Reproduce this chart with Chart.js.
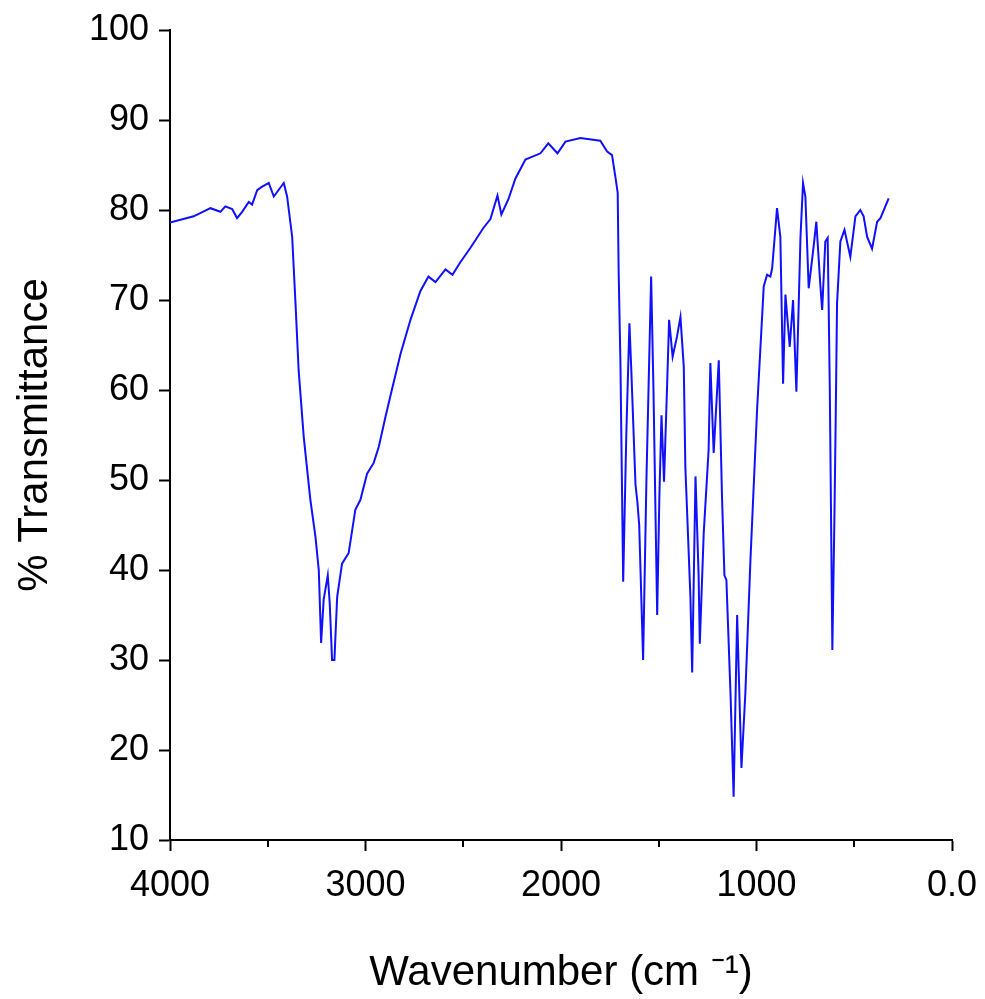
<!DOCTYPE html>
<html>
<head>
<meta charset="utf-8">
<script src="https://cdn.jsdelivr.net/npm/chart.js@4/dist/chart.umd.min.js"></script>
<style>
  html, body { margin: 0; padding: 0; background: #fff; }
  #wrap { width: 985px; height: 999px; }
</style>
</head>
<body>
<div id="wrap"><canvas id="c" width="985" height="999"></canvas></div>
<script>
// Wavenumber (cm-1)
const wavenumbers = [4000,3879,3793,3742,3717,3682,3657,3631,3597,3580,3554,3529,3512,3495,3469,3452,3418,3401,3375,3358,3342,3316,3282,3256,3239,3227,3214,3193,3183,3171,3159,3145,3120,3086,3052,3026,2992,2958,2932,2898,2873,2821,2770,2719,2678,2642,2591,2555,2515,2463,2397,2361,2325,2305,2269,2233,2182,2105,2065,2018,1977,1901,1799,1764,1739,1722,1710,1705,1696,1682,1666,1650,1640,1619,1609,1600,1580,1563,1539,1527,1508,1497,1486,1473,1458,1447,1429,1407,1389,1372,1364,1338,1329,1312,1296,1290,1270,1245,1236,1219,1193,1176,1164,1154,1133,1117,1099,1077,1057,1031,997,963,946,929,920,895,878,864,852,830,813,796,775,762,750,733,708,694,673,664,648,636,631,625,612,602,596,588,571,550,520,494,469,452,434,409,383,366,324];
// % Transmittance
const transmittance = [78.6,79.3,80.2,79.8,80.4,80.1,79.1,79.8,80.9,80.6,82.2,82.6,82.8,83.0,81.5,82.0,83.0,81.5,77.0,69.6,62.2,54.8,47.8,43.7,40.0,31.9,36.7,39.4,36.3,30.0,30.0,37.0,40.7,41.9,46.7,47.8,50.7,51.9,53.7,57.0,59.3,64.0,67.8,71.0,72.6,72.0,73.4,72.8,74.2,75.8,78.0,79.0,81.6,79.5,81.2,83.5,85.6,86.3,87.4,86.3,87.6,88.0,87.7,86.5,86.1,83.7,81.9,73.0,63.0,38.7,55.0,67.4,62.0,49.5,47.5,45.0,30.0,50.0,72.6,60.0,35.0,48.0,57.2,49.8,60.0,67.8,63.7,65.9,68.1,62.6,51.5,37.0,28.6,50.4,39.3,31.8,44.1,53.3,63.0,53.0,63.3,47.8,39.4,38.9,26.3,14.8,35.0,18.0,26.3,41.1,57.8,71.5,72.8,72.6,73.5,80.2,77.0,60.7,70.6,64.8,70.0,59.8,77.0,83.0,81.5,71.3,75.9,78.7,71.5,68.9,76.5,76.9,69.6,60.0,31.1,45.0,54.8,69.6,76.5,77.8,74.8,79.3,80.0,79.3,77.0,75.7,78.7,79.1,81.3];

const xTickLabels = {4000: '4000', 3000: '3000', 2000: '2000', 1000: '1000', 0: '0.0'};
const xTitle = 'Wavenumber (cm \u207B\u00B9)';
const yTitle = '% Transmittance';

const points = wavenumbers.map((w, i) => ({x: w, y: transmittance[i]}));

const FONT = "'Liberation Sans', Arial, sans-serif";

const minorTicks = {
  id: 'minorTicks',
  afterDraw(chart) {
    const sx = chart.scales.x;
    const ctx = chart.ctx;
    const y0 = chart.chartArea.bottom;
    ctx.save();
    ctx.strokeStyle = '#000';
    ctx.lineWidth = 2;
    sx.ticks.forEach(t => {
      if (t.value % 1000 !== 0) {
        const px = Math.round(sx.getPixelForValue(t.value));
        ctx.beginPath();
        ctx.moveTo(px, y0);
        ctx.lineTo(px, y0 + 7);
        ctx.stroke();
      }
    });
    ctx.restore();
  }
};

new Chart(document.getElementById('c'), {
  type: 'scatter',
  data: {
    datasets: [{
      data: points,
      showLine: true,
      borderColor: '#1010ff',
      borderWidth: 2,
      pointRadius: 0,
      tension: 0,
      fill: false
    }]
  },
  options: {
    responsive: false,
    animation: false,
    devicePixelRatio: 1,
    layout: { padding: { top: 30, right: 33, left: 0, bottom: 0 } },
    plugins: { legend: { display: false }, tooltip: { enabled: false } },
    scales: {
      x: {
        type: 'linear',
        reverse: true,
        min: 0,
        max: 4000,
        afterFit(scale) { scale.height = 159; scale.paddingLeft = 0; scale.paddingRight = 0; },
        border: { display: true, color: '#000', width: 2 },
        grid: {
          drawOnChartArea: false,
          drawTicks: true,
          tickLength: 11,
          tickWidth: 2,
          tickColor: (c) => (c.tick && c.tick.value % 1000 === 0) ? '#000' : 'rgba(0,0,0,0)'
        },
        ticks: {
          stepSize: 500,
          autoSkip: false,
          maxRotation: 0,
          padding: 13,
          color: '#000',
          font: { family: FONT, size: 36 },
          callback: (v) => (xTickLabels[v] !== undefined ? xTickLabels[v] : '')
        },
        title: {
          display: true,
          text: xTitle,
          color: '#000',
          font: { family: FONT, size: 42 },
          padding: { top: 4, bottom: 0 }
        }
      },
      y: {
        type: 'linear',
        min: 10,
        max: 100,
        afterFit(scale) { scale.width = 170; scale.paddingTop = 0; scale.paddingBottom = 0; },
        border: { display: true, color: '#000', width: 2 },
        grid: {
          drawOnChartArea: false,
          drawTicks: true,
          tickLength: 11,
          tickWidth: 2,
          tickColor: '#000'
        },
        ticks: {
          stepSize: 10,
          padding: 10,
          color: '#000',
          font: { family: FONT, size: 36 }
        },
        title: {
          display: true,
          text: yTitle,
          color: '#000',
          font: { family: FONT, size: 42 },
          padding: { top: 10, bottom: 0 }
        }
      }
    }
  },
  plugins: [minorTicks]
});
</script>
</body>
</html>
